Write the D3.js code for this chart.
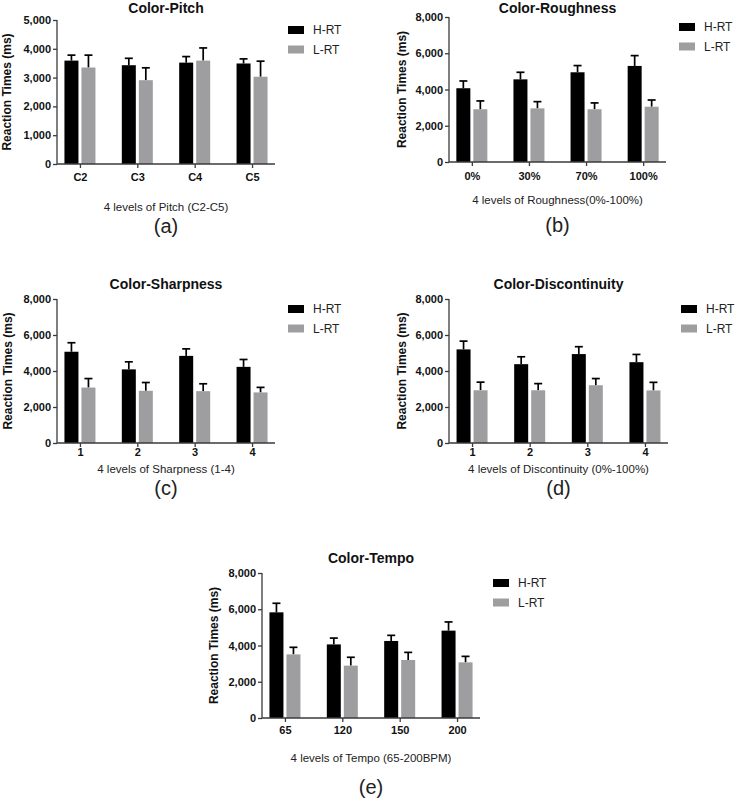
<!DOCTYPE html>
<html><head><meta charset="utf-8">
<script src="https://cdn.jsdelivr.net/npm/d3@7"></script>
<style>body{margin:0;background:#fff}svg{display:block}text{font-family:"Liberation Sans",Arial,sans-serif}</style>
</head><body>
<script>
// ---- data ----
const seriesNames = ["H-RT", "L-RT"];

const catsA = ["C2", "C3", "C4", "C5"];
const hA = [3590, 3430, 3520, 3490];
const hErrA = [190, 240, 210, 160];
const lA = [3350, 2910, 3590, 3030];
const lErrA = [430, 430, 440, 540];

const catsB = ["0%", "30%", "70%", "100%"];
const hB = [4070, 4560, 4950, 5300];
const hErrB = [400, 390, 370, 570];
const lB = [2910, 2960, 2910, 3050];
const lErrB = [460, 370, 350, 370];

const catsC = ["1", "2", "3", "4"];
const hC = [5070, 4090, 4840, 4230];
const hErrC = [500, 420, 390, 410];
const lC = [3080, 2900, 2880, 2810];
const lErrC = [500, 460, 410, 280];

const catsD = ["1", "2", "3", "4"];
const hD = [5200, 4380, 4940, 4490];
const hErrD = [460, 410, 410, 430];
const lD = [2930, 2930, 3210, 2920];
const lErrD = [450, 370, 370, 450];

const catsE = ["65", "120", "150", "200"];
const hE = [5830, 4060, 4250, 4820];
const hErrE = [500, 350, 310, 480];
const lE = [3510, 2890, 3200, 3070];
const lErrE = [390, 460, 420, 330];

const ticksA = [0, 1000, 2000, 3000, 4000, 5000];
const ticks8k = [0, 2000, 4000, 6000, 8000];

const titles = ["Color-Pitch", "Color-Roughness", "Color-Sharpness", "Color-Discontinuity", "Color-Tempo"];
const xLabels = ["4 levels of Pitch (C2-C5)", "4 levels of Roughness(0%-100%)", "4 levels of Sharpness (1-4)", "4 levels of Discontinuity (0%-100%)", "4 levels of Tempo (65-200BPM)"];
const panelTags = ["(a)", "(b)", "(c)", "(d)", "(e)"];
const yLabel = "Reaction Times (ms)";

// ---- layout ----
const panels = [
  {cats: catsA, h: hA, he: hErrA, l: lA, le: lErrA, ticks: ticksA, max: 5000, x0: 57, x1: 275, top: 20, bottom: 164, ylx: 7, titleY: 13, tickY: 177, xlabY: 207, tagY: 226},
  {cats: catsB, h: hB, he: hErrB, l: lB, le: lErrB, ticks: ticks8k, max: 8000, x0: 449, x1: 666, top: 17, bottom: 162, ylx: 402, titleY: 13, tickY: 176, xlabY: 200, tagY: 225},
  {cats: catsC, h: hC, he: hErrC, l: lC, le: lErrC, ticks: ticks8k, max: 8000, x0: 57, x1: 275, top: 299, bottom: 443, ylx: 8, titleY: 289, tickY: 452, xlabY: 469, tagY: 488},
  {cats: catsD, h: hD, he: hErrD, l: lD, le: lErrD, ticks: ticks8k, max: 8000, x0: 449, x1: 668, top: 299, bottom: 443, ylx: 402, titleY: 289, tickY: 452, xlabY: 469, tagY: 488},
  {cats: catsE, h: hE, he: hErrE, l: lE, le: lErrE, ticks: ticks8k, max: 8000, x0: 262, x1: 480, top: 573, bottom: 718, ylx: 214, titleY: 563, tickY: 730, xlabY: 758, tagY: 787}
];

const BLACK = "#000000", GRAY = "#9e9ea0", AXIS = "#3a3a3a";
const colors = [BLACK, GRAY];

const svg = d3.select("body").append("svg").attr("width", 738).attr("height", 800);

panels.forEach((p, i) => {
  const g = svg.append("g");
  const x = d3.scalePoint().domain(p.cats).range([p.x0, p.x1]).padding(0.4);
  const y = d3.scaleLinear().domain([0, p.max]).range([p.bottom, p.top]);
  const bw = 14, gap = 1.5;

  // bars + error bars
  const series = [{v: p.h, e: p.he, off: -gap - bw}, {v: p.l, e: p.le, off: gap}];
  series.forEach((s, si) => {
    p.cats.forEach((c, ci) => {
      const bx = x(c) + s.off;
      const mid = bx + bw / 2;
      const top = y(s.v[ci] + s.e[ci]);
      g.append("line").attr("x1", mid).attr("x2", mid).attr("y1", y(s.v[ci])).attr("y2", top)
        .attr("stroke", "#000").attr("stroke-width", 1.7);
      g.append("line").attr("x1", mid - 4).attr("x2", mid + 4).attr("y1", top).attr("y2", top)
        .attr("stroke", "#000").attr("stroke-width", 1.7);
      g.append("rect").attr("x", bx).attr("y", y(s.v[ci])).attr("width", bw)
        .attr("height", y(0) - y(s.v[ci])).attr("fill", colors[si]);
    });
  });

  // y axis
  const ya = g.append("g").attr("transform", `translate(${p.x0},0)`)
    .call(d3.axisLeft(y).tickValues(p.ticks).tickFormat(d3.format(",")).tickSize(4).tickPadding(2));
  ya.select(".domain").attr("stroke", AXIS).attr("stroke-width", 1.3).attr("d", `M0,${p.top}V${p.bottom}`);
  ya.selectAll(".tick line").attr("stroke", AXIS).attr("stroke-width", 1.3);
  ya.selectAll(".tick text").attr("font-size", 11).attr("font-weight", "bold").attr("fill", "#111")
    .attr("font-family", "Liberation Sans, Arial, sans-serif");

  // x axis
  const xa = g.append("g").attr("transform", `translate(0,${p.bottom})`)
    .call(d3.axisBottom(x).tickSize(4).tickPadding(3));
  xa.select(".domain").attr("stroke", AXIS).attr("stroke-width", 1.3).attr("d", `M${p.x0},0H${p.x1}`);
  xa.selectAll(".tick line").attr("stroke", AXIS).attr("stroke-width", 1.3);
  xa.selectAll(".tick text").attr("font-size", 11).attr("font-weight", "bold").attr("fill", "#111")
    .attr("font-family", "Liberation Sans, Arial, sans-serif").attr("dy", null)
    .attr("y", p.tickY - p.bottom).attr("dominant-baseline", "central");

  const cx = (p.x0 + p.x1) / 2;
  // title
  g.append("text").attr("x", cx).attr("y", p.titleY).attr("text-anchor", "middle")
    .attr("font-size", 14).attr("font-weight", "bold").attr("fill", "#111").text(titles[i]);
  // y label
  g.append("text").attr("transform", `translate(${p.ylx},${(p.top + p.bottom) / 2}) rotate(-90)`)
    .attr("text-anchor", "middle").attr("dominant-baseline", "central")
    .attr("font-size", 12).attr("font-weight", "bold").attr("fill", "#111").text(yLabel);
  // x label
  g.append("text").attr("x", cx).attr("y", p.xlabY).attr("text-anchor", "middle").attr("dominant-baseline", "central")
    .attr("font-size", 11.5).attr("fill", "#222").text(xLabels[i]);
  // panel tag
  g.append("text").attr("x", cx).attr("y", p.tagY).attr("text-anchor", "middle").attr("dominant-baseline", "central")
    .attr("font-size", 20).attr("fill", "#222").text(panelTags[i]);

  // legend
  seriesNames.forEach((n, si) => {
    const ly = p.top + 6 + si * 19.5;
    g.append("rect").attr("x", p.x1 + 13).attr("y", ly).attr("width", 16).attr("height", 8).attr("fill", colors[si]);
    g.append("text").attr("x", p.x1 + 38).attr("y", ly + 4).attr("dominant-baseline", "central")
      .attr("font-size", 12).attr("fill", "#222").text(n);
  });
});
</script>
</body></html>
